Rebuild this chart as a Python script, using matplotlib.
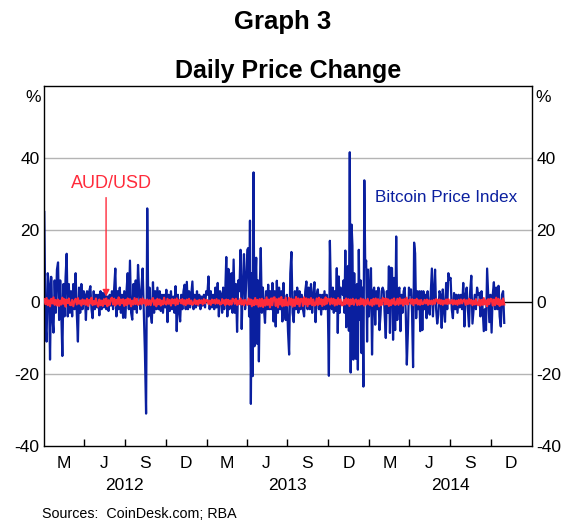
"""
Graph 3 - Daily Price Change
Bitcoin Price Index vs AUD/USD, daily % change, Jan 2012 - Oct 2014
Output: out.png
"""

import numpy as np
import pandas as pd
import matplotlib
matplotlib.use("Agg")
import matplotlib.pyplot as plt
import matplotlib.transforms as mtransforms

plt.rcParams["font.family"] = ["Liberation Sans", "DejaVu Sans"]
plt.rcParams["axes.unicode_minus"] = False

BLUE = "#0a1f9f"
RED = "#ff2b3b"
GRID = "#b4b4b4"

# ── Data: daily % change, one list per month ─────────────────────────────────
btc_2012 = [
    [25, -6, -11, 8, 5, -16, 7, -4, -8.5, 6, -3, 9],
    [11, -5, 6, -3, -15, 5, -4, 7, 13.4, -4, 5, -3],
    [3, -4, 5, -2, 8, -3, -11, 4, -3, 5, -2, 3],
    [2, -5, 3, -2, 3, 4.4, -2, -4.5, 3, -2, 2, -1.5],
    [2, -3.7, 3, -2, 2.5, -1.5, 3, -2, 1.5, -2.5, 2, -1],
    [3, -2, 4, 9.3, -4, 3, -2, 4, -3, 2, -4.4, 3],
    [-4.4, 3, 8, -2, 11.5, -3, -4.9, 5, -2, 6, -3, 10.3],
    [3, -2, 4, 9.3, -3, -14.2, -31, 26, -4, 4, -3, -5.8],
    [5.5, -3, 3, -2, 4, -2, 3, -2.5, 2, -3, 2, -1.5],
    [3.4, -5.6, 2, -2.5, 3, -2, 1.5, -3, 4.4, -8.1, 2, -2],
    [-5.4, 2, -2, 3, 4.8, -2, 5.6, -2, 3, -1.5, 2, 5.7],
    [-2, 2, -1.5, 3, -1, 2, -2, 1.5, -1, 2, -1.5, 3],
]
btc_2013 = [
    [2, 7.1, -2, 3, -1.5, 2, -2, 4, -1.5, 5.3, -4, 3],
    [2, -3, 4, -2, 3, 12.5, -4, 9.2, -2, 5, 8, -3],
    [11.8, -3, 5, -8.3, 6, 3, 14.5, -7.5, 5, 13.3, -2, 6],
    [14.5, 15, -4, 22.6, -28.3, 8, -20.6, 36, -12.3, 5, 12.3, -11.6, 6, -16.5, 4],
    [15, -3, 4, -2, -5.8, 3, -2, 4.8, -2, 3, -2, 5.3, -5.4],
    [3, -6.8, 5.9, -3, 4, -2, 3, -5.4, 5.3, -3, -5, 2],
    [-8.1, -14.6, 8, 13.9, -3, -5.6, 3, -2, 4, -3, 3, -2],
    [2, -2, -4, 3, 5.7, -2, 4, -2, 5, -3, 2, 5.5],
    [-5.6, 2, 3.5, -2, 2, -3.5, 2, -2, 3, -2, 2, -1.5],
    [-20.5, 17, 3, -2, 4, -3, 3, -2.5, 9.4, -8.6, 7.1, -3, 4, 3],
    [2, 6, -3, 14.3, -7, 4, 10, -8, 41.6, -19.6, 21.5, 15.6, -16, 8, -14.6],
    [-15.8, 5, -18.8, 14.5, -5, 6, -14.2, 4, -23.5, 33.8, 9.9, 11.5, -11, 9, -4],
]
btc_2014 = [
    [3, 9.4, -14.6, 3, 4, -6.3, 3, -2, 4, -7.8, -3.5, 3, 4],
    [3, -4, -10, 3, -3, 9.9, -8.6, 9.5, 9.4, -10.5, 6.7, -7.8],
    [18.2, -5, 3, 4, -8.1, 2, -3, 3, 4, -3, -17.4, -8.6, 4],
    [2, 3.5, -3, -18.1, 16.5, 13.5, -4.5, 3, -2, 3, -8.1, 3, -7.8],
    [3, -2, 2, -4.5, 3, -2, -3.5, 3, 9.3, -4, 2, 9, -2],
    [-6, -3.5, 3, 2, -7.2, 3.5, -2, -5.5, 5.3, -2, 8, 6.2],
    [6.7, -2, -4.5, 2.5, -2, 2, -3, 2, -1.5, 2, -2, 5.3],
    [-6.8, 2, 4, -2, -6.8, 3, 7.3, -6, -2, 2, -2, 4],
    [2, 2.5, -4, 3, -2, -8.1, -2, -7.8, 9.3, 2, -5.6, 2],
    [-8.5, 2, 5.5, -2, 4, -2, 4.5, -4, -6.8, 2, 3, -5.8],
]

aud_2012 = [
    [0.8, -0.6, 1.1, -0.9, 0.5, -1.2, 0.9, -0.4, 1.3, -0.8, 0.6, -1.0],
    [0.7, -1.1, 0.4, -0.7, 1.2, -0.5, 0.8, -1.3, 0.6, -0.3, 1.0, -0.8],
    [-0.9, 0.6, -1.2, 0.3, 0.9, -0.7, 1.1, -0.5, 0.4, -1.0, 0.7, -0.6],
    [0.5, -0.8, 0.9, -1.1, 0.6, -0.4, 1.2, -0.9, 0.3, -0.7, 1.0, -0.5],
    [-1.3, 0.7, -0.9, 0.4, -1.1, 0.8, -0.6, 1.0, -1.2, 0.5, -0.8, 0.9],
    [1.2, -0.7, 0.9, -1.0, 0.6, -0.5, 1.3, -0.9, 0.7, -0.4, 0.8, -1.1],
    [0.6, -0.9, 1.0, -0.5, 0.8, -1.2, 0.4, -0.7, 1.1, -0.6, 0.9, -0.8],
    [-0.5, 0.8, -0.7, 1.0, -0.4, 0.6, -1.0, 0.7, -0.8, 0.5, -0.9, 0.6],
    [1.1, -0.8, 0.5, -1.2, 0.9, -0.6, 0.7, -1.0, 0.4, -0.7, 1.2, -0.5],
    [-0.7, 0.9, -0.5, 0.6, -1.0, 0.8, -0.4, 0.7, -0.9, 1.0, -0.6, 0.5],
    [0.6, -0.4, 0.8, -0.7, 0.5, -0.9, 0.7, -0.5, 0.9, -0.6, 0.4, -0.8],
    [-0.5, 0.7, -0.6, 0.4, -0.8, 0.6, -0.3, 0.5, -0.7, 0.8, -0.4, 0.6],
]
aud_2013 = [
    [0.5, -0.6, 0.4, -0.8, 0.7, -0.3, 0.6, -0.5, 0.8, -0.4, 0.5, -0.7],
    [-0.6, 0.8, -0.4, 0.5, -0.9, 0.7, -0.5, 0.6, -0.8, 0.4, -0.7, 0.9],
    [0.7, -0.5, 0.9, -0.8, 0.4, -0.6, 1.0, -0.7, 0.5, -0.9, 0.6, -0.4],
    [-0.8, 1.0, -0.6, 0.7, -1.2, 0.5, -0.9, 1.1, -0.7, 0.6, -1.3, 0.8],
    [-1.2, 0.9, -1.4, 0.6, -1.0, 1.3, -0.8, 0.7, -1.5, 1.0, -0.9, 1.2],
    [1.3, -1.1, 0.8, -1.5, 1.0, -0.7, 1.4, -1.2, 0.6, -1.0, 1.2, -0.9],
    [-1.0, 1.2, -0.8, 0.9, -1.3, 0.7, -1.1, 1.4, -0.6, 1.0, -1.2, 0.8],
    [0.9, -1.1, 1.3, -0.7, 1.0, -1.2, 0.8, -0.6, 1.1, -0.9, 0.7, -1.0],
    [-0.7, 1.0, -0.9, 1.2, -0.6, 0.8, -1.1, 0.7, -0.8, 1.3, -0.5, 0.9],
    [0.8, -0.7, 1.0, -0.5, 0.9, -1.0, 0.6, -0.8, 1.1, -0.6, 0.7, -0.9],
    [-0.9, 0.6, -0.7, 1.0, -0.5, 0.8, -1.1, 0.7, -0.6, 0.9, -0.8, 0.5],
    [0.7, -0.9, 0.5, -0.8, 1.0, -0.6, 0.8, -1.0, 0.6, -0.7, 0.9, -0.5],
]
aud_2014 = [
    [-0.8, 0.6, -1.1, 0.9, -0.7, 1.0, -0.5, 0.8, -1.2, 0.6, -0.9, 1.1],
    [0.9, -0.7, 1.0, -0.6, 0.8, -1.1, 0.5, -0.9, 0.7, -0.5, 1.0, -0.8],
    [-0.6, 0.9, -0.8, 1.1, -0.5, 0.7, -1.0, 0.8, -0.6, 1.2, -0.7, 0.5],
    [0.7, -0.5, 0.8, -0.9, 0.6, -0.4, 0.9, -0.7, 0.5, -0.8, 0.6, -0.6],
    [-0.5, 0.6, -0.4, 0.7, -0.8, 0.5, -0.6, 0.4, -0.7, 0.6, -0.5, 0.8],
    [0.6, -0.4, 0.7, -0.6, 0.5, -0.8, 0.4, -0.5, 0.7, -0.6, 0.8, -0.4],
    [-0.4, 0.6, -0.7, 0.5, -0.6, 0.4, -0.8, 0.6, -0.5, 0.7, -0.4, 0.5],
    [0.7, -0.8, 0.5, -0.6, 0.9, -0.5, 0.6, -0.9, 0.4, -0.7, 0.8, -0.6],
    [-0.9, 0.7, -1.0, 0.6, -0.8, 1.1, -0.7, 0.5, -1.2, 0.8, -0.6, 0.9],
    [0.8, -1.0, 0.7, -0.9, 1.2, -0.6, 0.9, -1.1, 0.5, -0.8, 1.0, -0.7],
]

QUARTER_LABELS = ["M", "J", "S", "D"]
YEARS = [2012, 2013, 2014]
Y_TICKS = [-40, -20, 0, 20, 40]


def build(year_lists, first_year):
    """Spread each month's values evenly across that month."""
    dates, vals = [], []
    for yi, months in enumerate(year_lists):
        for mi, month_vals in enumerate(months):
            start = pd.Timestamp(first_year + yi, mi + 1, 1)
            ndays = start.days_in_month
            n = len(month_vals)
            for i, v in enumerate(month_vals):
                dates.append(start + pd.Timedelta(days=(i + 0.5) * ndays / n))
                vals.append(v)
    return pd.to_datetime(dates), np.array(vals)


btc_x, btc_y = build([btc_2012, btc_2013, btc_2014], 2012)
aud_x, aud_y = build([aud_2012, aud_2013, aud_2014], 2012)

# ── Figure ───────────────────────────────────────────────────────────────────
W, H = 567, 520
fig = plt.figure(figsize=(W / 100, H / 100), dpi=100, facecolor="white")
ax = fig.add_axes([43.7 / W, 1 - 446 / H, (532 - 43.7) / W, (446 - 86) / H])

for g in [-20, 20, 40]:
    ax.axhline(g, color=GRID, lw=1.0, zorder=1)
ax.axhline(0, color="black", lw=1.0, zorder=1.5)

ax.plot(btc_x, btc_y, color=BLUE, lw=1.6, zorder=2)
ax.plot(aud_x, aud_y, color=RED, lw=1.5, zorder=3)

ax.set_xlim(pd.Timestamp("2012-01-01"), pd.Timestamp("2015-01-01"))
ax.set_ylim(-40, 60)

# x axis: quarter boundary ticks, quarter letters in between
q_starts = pd.date_range("2012-04-01", "2014-10-01", freq="QS")
q_mids = [pd.Timestamp(y, m, 15) for y in YEARS for m in (2, 5, 8, 11)]
ax.set_xticks(q_starts)
ax.set_xticklabels([])
ax.set_xticks(q_mids, minor=True)
ax.set_xticklabels(QUARTER_LABELS * len(YEARS), minor=True)
ax.tick_params(axis="x", which="major", direction="in", length=5,
               width=1, color="black")
ax.tick_params(axis="x", which="minor", length=0, pad=7, labelsize=12.5)

trans = mtransforms.blended_transform_factory(ax.transData, ax.transAxes)
for y in YEARS:
    ax.text(pd.Timestamp(y, 7, 1), -0.111, str(y), transform=trans,
            ha="center", va="center", fontsize=12.5)

# y axis: labels both sides, no tick marks
ax.set_yticks(Y_TICKS)
ax.set_yticklabels([str(t) for t in Y_TICKS])
ax.tick_params(axis="y", length=0, pad=3, labelsize=12.5,
               labelleft=True, labelright=True)

for side in ["top", "bottom", "left", "right"]:
    ax.spines[side].set_linewidth(1.0)
    ax.spines[side].set_color("black")

# % unit labels
fig.text(33 / W, 1 - 97 / H, "%", ha="center", va="center", fontsize=12.5)
fig.text(543 / W, 1 - 97 / H, "%", ha="center", va="center", fontsize=12.5)

# series labels
aud_x0 = pd.Timestamp("2012-05-20")
ax.annotate("", xy=(aud_x0, 1.5), xytext=(aud_x0, 29),
            arrowprops=dict(arrowstyle="-|>", color=RED, lw=1.0,
                            mutation_scale=10, shrinkA=0, shrinkB=0),
            zorder=4)
ax.text(pd.Timestamp("2012-06-02"), 33, "AUD/USD", color=RED,
        ha="center", va="center", fontsize=13)
ax.text(pd.Timestamp("2014-06-22"), 28.9, "Bitcoin Price Index", color=BLUE,
        ha="center", va="center", fontsize=12.3)

# titles
fig.text(283 / W, 1 - 22 / H, "Graph 3", ha="center", va="center",
         fontsize=18.5, fontweight="bold")
fig.text(288 / W, 1 - 71 / H, "Daily Price Change", ha="center", va="center",
         fontsize=18, fontweight="bold")

# source note
fig.text(42 / W, 1 - 514 / H, "Sources:  CoinDesk.com; RBA", ha="left",
         va="center", fontsize=10.3)

fig.savefig("out.png", dpi=100, facecolor="white")
plt.close(fig)
print("Saved: out.png")
